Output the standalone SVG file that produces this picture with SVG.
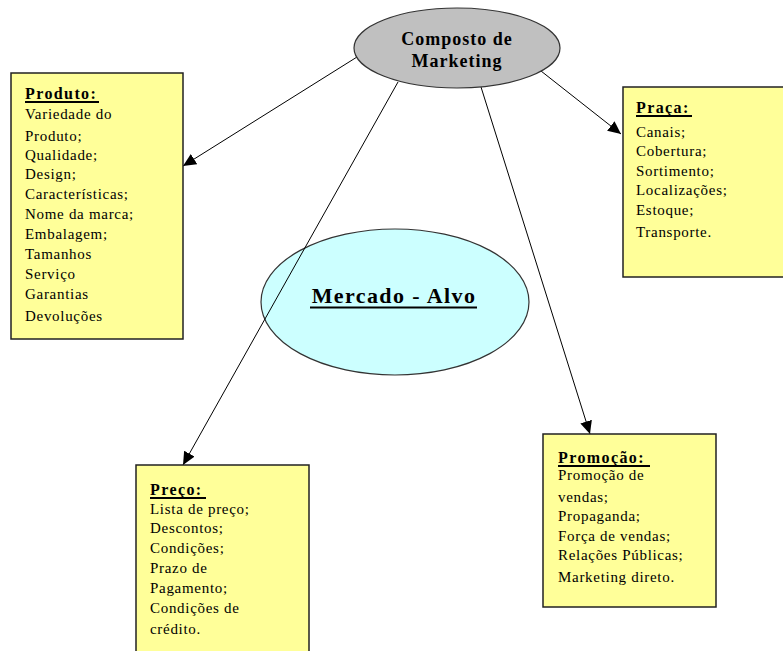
<svg xmlns="http://www.w3.org/2000/svg" width="783" height="651" viewBox="0 0 783 651">
  <defs>
    <marker id="arrow" markerUnits="userSpaceOnUse" markerWidth="14" markerHeight="12" refX="13" refY="6" orient="auto">
      <path d="M0,0 L13,6 L0,12 Z" fill="#000"/>
    </marker>
  </defs>
  <style>
    .box { fill: #FFFF99; stroke: #222; stroke-width: 1.5; }
    .item { font-family: "Liberation Serif", "Times New Roman", serif; font-size: 15px; letter-spacing: 0.7px; fill: #000; }
    .title { font-family: "Liberation Serif", "Times New Roman", serif; font-size: 16px; font-weight: bold; letter-spacing: 1.4px; fill: #000; }
    .uline { stroke: #000; stroke-width: 2; }
    .conn { stroke: #000; stroke-width: 1; fill: none; marker-end: url(#arrow); }
  </style>
  <rect width="783" height="651" fill="#fff"/>

  <!-- target market (drawn first; connectors pass over it) -->
  <g id="mercado-alvo">
    <ellipse cx="395" cy="302" rx="134" ry="73" fill="#CCFFFF" stroke="#333" stroke-width="1.2"/>
    <text x="394" y="303" text-anchor="middle" font-family="Liberation Serif, serif" font-size="22" font-weight="bold" letter-spacing="1.4">Mercado - Alvo</text>
    <line class="uline" x1="310" y1="307.5" x2="477" y2="307.5"/>
  </g>

  <g id="connectors">
    <line class="conn" x1="357" y1="57" x2="183" y2="166"/>
    <line class="conn" x1="541" y1="71" x2="621" y2="134"/>
    <line class="conn" x1="398" y1="82" x2="183" y2="465"/>
    <line class="conn" x1="481" y1="87" x2="590" y2="434"/>
  </g>

  <g id="composto">
    <ellipse cx="457" cy="48" rx="103" ry="40" fill="#C0C0C0" stroke="#333" stroke-width="1.2"/>
    <text x="457" y="45" text-anchor="middle" font-family="Liberation Serif, serif" font-size="18" font-weight="bold" letter-spacing="1">Composto de</text>
    <text x="457" y="67" text-anchor="middle" font-family="Liberation Serif, serif" font-size="18" font-weight="bold" letter-spacing="1">Marketing</text>
  </g>

  <g id="produto">
    <rect class="box" x="11" y="73" width="172" height="266"/>
    <text class="title" x="25" y="99">Produto:</text>
    <line class="uline" x1="25" y1="102" x2="99" y2="102"/>
    <text class="item" x="25" y="119">Variedade do</text>
    <text class="item" x="25" y="141">Produto;</text>
    <text class="item" x="25" y="160">Qualidade;</text>
    <text class="item" x="25" y="179">Design;</text>
    <text class="item" x="25" y="199">Características;</text>
    <text class="item" x="25" y="219">Nome da marca;</text>
    <text class="item" x="25" y="239">Embalagem;</text>
    <text class="item" x="25" y="259">Tamanhos</text>
    <text class="item" x="25" y="279">Serviço</text>
    <text class="item" x="25" y="299">Garantias</text>
    <text class="item" x="25" y="321">Devoluções</text>
  </g>

  <g id="praca">
    <rect class="box" x="623" y="87" width="165" height="190"/>
    <text class="title" x="636" y="113">Praça:</text>
    <line class="uline" x1="636" y1="116" x2="692" y2="116"/>
    <text class="item" x="636" y="137">Canais;</text>
    <text class="item" x="636" y="156">Cobertura;</text>
    <text class="item" x="636" y="176">Sortimento;</text>
    <text class="item" x="636" y="195">Localizações;</text>
    <text class="item" x="636" y="215">Estoque;</text>
    <text class="item" x="636" y="237">Transporte.</text>
  </g>

  <g id="preco">
    <rect class="box" x="136" y="465" width="173" height="195"/>
    <text class="title" x="150" y="495">Preço:</text>
    <line class="uline" x1="150" y1="498" x2="206" y2="498"/>
    <text class="item" x="150" y="514">Lista de preço;</text>
    <text class="item" x="150" y="533">Descontos;</text>
    <text class="item" x="150" y="553">Condições;</text>
    <text class="item" x="150" y="573">Prazo de</text>
    <text class="item" x="150" y="593">Pagamento;</text>
    <text class="item" x="150" y="613">Condições de</text>
    <text class="item" x="150" y="634">crédito.</text>
  </g>

  <g id="promocao">
    <rect class="box" x="543" y="434" width="173" height="173"/>
    <text class="title" x="558" y="463">Promoção:</text>
    <line class="uline" x1="558" y1="466" x2="650" y2="466"/>
    <text class="item" x="558" y="480">Promoção de</text>
    <text class="item" x="558" y="502">vendas;</text>
    <text class="item" x="558" y="521">Propaganda;</text>
    <text class="item" x="558" y="541">Força de vendas;</text>
    <text class="item" x="558" y="560">Relações Públicas;</text>
    <text class="item" x="558" y="582">Marketing direto.</text>
  </g>
</svg>
